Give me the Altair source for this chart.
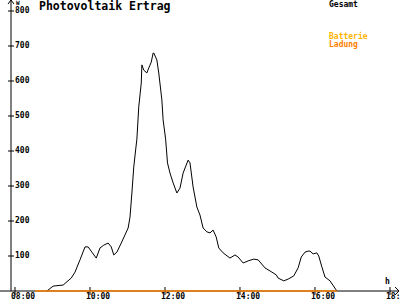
import altair as alt
import pandas as pd

# Gesamt (W) over time of day
gesamt_times = ["08:51", "09:01", "09:17", "09:30", "09:36", "09:44", "09:52", "09:57",
                "10:03", "10:10", "10:16", "10:22", "10:29", "10:34", "10:38", "10:43",
                "10:50", "11:01", "11:04", "11:07", "11:10", "11:13", "11:15", "11:18",
                "11:22", "11:23", "11:26", "11:31", "11:34", "11:38", "11:41", "11:42",
                "11:47", "11:50", "11:55", "11:57", "12:01", "12:04", "12:08", "12:13",
                "12:19", "12:24", "12:29", "12:37", "12:40", "12:45", "12:51", "12:56",
                "13:01", "13:07", "13:12", "13:17", "13:22", "13:26", "13:33", "13:44",
                "13:52", "13:57", "14:05", "14:13", "14:22", "14:29", "14:40", "14:51",
                "14:58", "15:01", "15:10", "15:17", "15:26", "15:33", "15:38", "15:44",
                "15:49", "15:52", "15:57", "16:03", "16:06", "16:11", "16:16", "16:24",
                "16:35"]
gesamt_values = [0, 14, 17, 37, 54, 89, 126, 126,
                 111, 94, 123, 131, 137, 126, 103, 111,
                 137, 180, 211, 280, 354, 403, 434, 526,
                 594, 646, 631, 623, 637, 654, 680, 680,
                 660, 623, 546, 489, 434, 366, 337, 309,
                 280, 294, 337, 374, 366, 297, 240, 217,
                 180, 169, 166, 174, 154, 123, 109, 94,
                 103, 97, 80, 86, 91, 89, 66, 54,
                 46, 37, 29, 34, 43, 66, 97, 111,
                 114, 114, 106, 109, 100, 69, 40, 29,
                 0]

# Batterie Ladung (W)
ladung_times = ["08:32", "16:35"]
ladung_values = [0, 0]

y_ticks = [100, 200, 300, 400, 500, 600, 700, 800]
x_ticks = [8, 10, 12, 14, 16, 18]
x_tick_labels = ["08:00", "10:00", "12:00", "14:00", "16:00", "18:00"]


def to_hours(s):
    h, m = s.split(":")
    return int(h) + int(m) / 60.0


gesamt = pd.DataFrame({"t": [to_hours(s) for s in gesamt_times], "v": gesamt_values})
ladung = pd.DataFrame({"t": [to_hours(s) for s in ladung_times], "v": ladung_values})
yt = pd.DataFrame({"v": y_ticks, "label": [str(v) for v in y_ticks]})
xt = pd.DataFrame({"t": x_ticks, "label": x_tick_labels})
one = pd.DataFrame({"v": [0]})

xs = alt.Scale(domain=[7.6, 18.2667], nice=False, zero=False)
ys = alt.Scale(domain=[-25.71, 831.43], nice=False, zero=False)
FONT = "DejaVu Sans Mono"
BLACK = "#000000"
LADUNG = "#FF8000"
BATT = "#FFB400"

# axis lines
x_axis = alt.Chart(one).mark_rule(color=BLACK, strokeWidth=1).encode(
    x=alt.value(0), x2=alt.value(399), y=alt.Y("v:Q", scale=ys, axis=None))
y_axis = alt.Chart(one).mark_rule(color=BLACK, strokeWidth=1).encode(
    x=alt.value(11), y=alt.value(0), y2=alt.value(291))
arr_up1 = alt.Chart(one).mark_rule(color=BLACK).encode(
    x=alt.value(8), x2=alt.value(11), y=alt.value(4), y2=alt.value(0))
arr_up2 = alt.Chart(one).mark_rule(color=BLACK).encode(
    x=alt.value(14), x2=alt.value(11), y=alt.value(4), y2=alt.value(0))
arr_r1 = alt.Chart(one).mark_rule(color=BLACK).encode(
    x=alt.value(395), x2=alt.value(399), y=alt.value(287), y2=alt.value(291))
arr_r2 = alt.Chart(one).mark_rule(color=BLACK).encode(
    x=alt.value(395), x2=alt.value(399), y=alt.value(295), y2=alt.value(291))

# ticks and labels
ytick = alt.Chart(yt).mark_rule(color=BLACK).encode(
    x=alt.value(8), x2=alt.value(14), y=alt.Y("v:Q", scale=ys, axis=None))
ylab = alt.Chart(yt).mark_text(font=FONT, fontSize=8, fontWeight="bold", align="left",
                               baseline="middle", color=BLACK).encode(
    x=alt.value(15), y=alt.Y("v:Q", scale=ys, axis=None), text="label:N")
xtick = alt.Chart(xt).mark_rule(color=BLACK).encode(
    x=alt.X("t:Q", scale=xs, axis=None), y=alt.value(287), y2=alt.value(295))
xlab = alt.Chart(xt).mark_text(font=FONT, fontSize=8, fontWeight="bold", align="left",
                               baseline="middle", dx=-4, color=BLACK).encode(
    x=alt.X("t:Q", scale=xs, axis=None), y=alt.value(297), text="label:N")


def label(txt, x, y, color=BLACK, size=8, weight="bold", baseline="alphabetic"):
    return alt.Chart(one).mark_text(font=FONT, fontSize=size, fontWeight=weight,
                                    align="left", baseline=baseline, color=color).encode(
        x=alt.value(x), y=alt.value(y), text=alt.value(txt))


title = label("Photovoltaik Ertrag", 39, 10, size=11.5)
w_lab = label("W", 16, 5, size=6)
h_lab = label("h", 385, 284)
g_lab = label("Gesamt", 329, 7)
b_lab = label("Batterie", 329, 39, color=BATT)
l_lab = label("Ladung", 329, 47, color=LADUNG)

g_line = alt.Chart(gesamt).mark_line(color=BLACK, strokeWidth=1).encode(
    x=alt.X("t:Q", scale=xs, axis=None), y=alt.Y("v:Q", scale=ys, axis=None))
l_line = alt.Chart(ladung).mark_line(color=LADUNG, strokeWidth=1.5).encode(
    x=alt.X("t:Q", scale=xs, axis=None), y=alt.Y("v:Q", scale=ys, axis=None))

chart = alt.layer(
    x_axis, y_axis, arr_up1, arr_up2, arr_r1, arr_r2,
    ytick, ylab, xtick, xlab,
    title, w_lab, h_lab, g_lab, b_lab, l_lab,
    g_line, l_line,
).properties(
    width=400, height=300, autosize=alt.AutoSizeParams(type="none"), padding=0,
    background="#FFFFFF",
).configure_view(stroke=None)

chart.save("out.html", embed_options={"renderer": "svg", "actions": False})
